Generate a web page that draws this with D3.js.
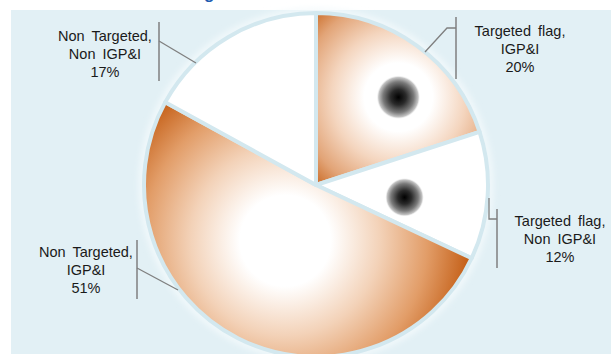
<!DOCTYPE html>
<html>
<head>
<meta charset="utf-8">
<script src="https://cdn.jsdelivr.net/npm/d3@7"></script>
<style>
  html, body { margin: 0; padding: 0; background: #ffffff; }
  svg { display: block; }
  text { font-family: "Liberation Sans", Arial, sans-serif; }
</style>
</head>
<body>
<svg id="chart" width="611" height="354"></svg>
<script>
// ---- data ----
const categories = [
  "Targeted flag, IGP&I",
  "Targeted flag, Non IGP&I",
  "Non Targeted, IGP&I",
  "Non Targeted, Non IGP&I"
];
const values = [20, 12, 51, 17];
const labelLines = [
  ["Targeted flag,", "IGP&I", "20%"],
  ["Targeted flag,", "Non IGP&I", "12%"],
  ["Non Targeted,", "IGP&I", "51%"],
  ["Non Targeted,", "Non IGP&I", "17%"]
];

// ---- styles / layout ----
const W = 611, H = 354;
const cx = 316, cy = 185, R = 172;
const bg = "#e2f0f5";
const fillKind = ["glow", "white", "glow", "white"];
// decorative glow/spot placement: fraction along slice angle, fraction of radius
const glowStyle = [
  { af: 0.6, rf: 0.70, gr: 122, spot: 22 },
  { af: 0.6, rf: 0.52, gr: 0, spot: 19.5 },
  { af: 0.51, rf: 0.37, gr: 182, spot: 0 },
  null
];
// label annotation layout
const labelLayout = [
  { tx: 520, ty: 36, bar: [456, 17, 79], leader: [[456, 28], [447, 28], [425, 52]] },
  { tx: 560, ty: 226, bar: [497, 209, 268], leader: [[497, 219], [489, 219], [489, 198]] },
  { tx: 86, ty: 257, bar: [137, 240, 299], leader: [[137, 268], [178, 290]] },
  { tx: 105, ty: 41, bar: [159, 22, 81], leader: [[159, 41], [196, 63]] }
];

const svg = d3.select("#chart");
const defs = svg.append("defs");

// background panel
svg.append("rect").attr("x", 11).attr("y", 10).attr("width", W - 11).attr("height", H - 10).attr("fill", bg);

// title fragment (cut off above, as in the reference)
svg.append("text").attr("x", 204).attr("y", -1).attr("font-size", 17).attr("font-weight", "bold")
  .attr("fill", "#1f5db0").text("g");

// soft halo around pie
const blur = defs.append("filter").attr("id", "halo").attr("x", "-20%").attr("y", "-20%").attr("width", "140%").attr("height", "140%");
blur.append("feGaussianBlur").attr("stdDeviation", 3);
svg.append("circle").attr("cx", cx).attr("cy", cy).attr("r", R + 2)
  .attr("fill", "none").attr("stroke", "#f4fafc").attr("stroke-width", 6).attr("filter", "url(#halo)");

const pie = d3.pie().sort(null).value(d => d).startAngle(0).endAngle(2 * Math.PI);
const arcs = pie(values);
const arc = d3.arc().innerRadius(0).outerRadius(R);

const g = svg.append("g").attr("transform", `translate(${cx},${cy})`);

arcs.forEach((a, i) => {
  const st = glowStyle[i];
  let fill = "#ffffff";
  if (fillKind[i] === "glow") {
    const ang = a.startAngle + st.af * (a.endAngle - a.startAngle);
    const [px, py] = d3.pointRadial(ang, st.rf * R);
    const gr = defs.append("radialGradient").attr("id", "glow" + i)
      .attr("gradientUnits", "userSpaceOnUse")
      .attr("cx", px).attr("cy", py).attr("r", st.gr).attr("fx", px).attr("fy", py);
    const stops = i === 0
      ? [[0, "#ffffff"], [0.28, "#ffffff"], [0.55, "#f4d5be"], [0.8, "#e2a477"], [1, "#c8661f"]]
      : [[0, "#ffffff"], [0.25, "#ffffff"], [0.52, "#f3d2b8"], [0.78, "#e29d68"], [1, "#c6631c"]];
    stops.forEach(s => gr.append("stop").attr("offset", s[0]).attr("stop-color", s[1]));
    fill = `url(#glow${i})`;
  }
  g.append("path").attr("d", arc(a)).attr("fill", fill)
    .attr("stroke", "#d3e8ef").attr("stroke-width", 4).attr("stroke-linejoin", "round");
});

// dark spots
arcs.forEach((a, i) => {
  const st = glowStyle[i];
  if (!st || !st.spot) return;
  const ang = a.startAngle + st.af * (a.endAngle - a.startAngle);
  const [px, py] = d3.pointRadial(ang, st.rf * R);
  const sg = defs.append("radialGradient").attr("id", "spot" + i);
  [[0, "#000000", 1], [0.35, "#2a2a2a", 1], [0.7, "#7a7a7a", 1], [0.9, "#c4c4c4", 1], [1, "#ffffff", 0]]
    .forEach(s => sg.append("stop").attr("offset", s[0]).attr("stop-color", s[1]).attr("stop-opacity", s[2]));
  g.append("circle").attr("cx", px).attr("cy", py).attr("r", st.spot).attr("fill", `url(#spot${i})`);
});

// labels + leader lines
const line = d3.line();
labelLayout.forEach((L, i) => {
  svg.append("line").attr("x1", L.bar[0]).attr("x2", L.bar[0]).attr("y1", L.bar[1]).attr("y2", L.bar[2])
    .attr("stroke", "#7f7f7f").attr("stroke-width", 1.5);
  svg.append("path").attr("d", line(L.leader)).attr("fill", "none")
    .attr("stroke", "#7f7f7f").attr("stroke-width", 1.3);
  const t = svg.append("text").attr("text-anchor", "middle").attr("font-size", 14.5)
    .attr("fill", "#1a1a1a").attr("word-spacing", 3);
  labelLines[i].forEach((s, k) => {
    t.append("tspan").attr("x", L.tx).attr("y", L.ty + k * 17.8).text(s);
  });
});
</script>
</body>
</html>
